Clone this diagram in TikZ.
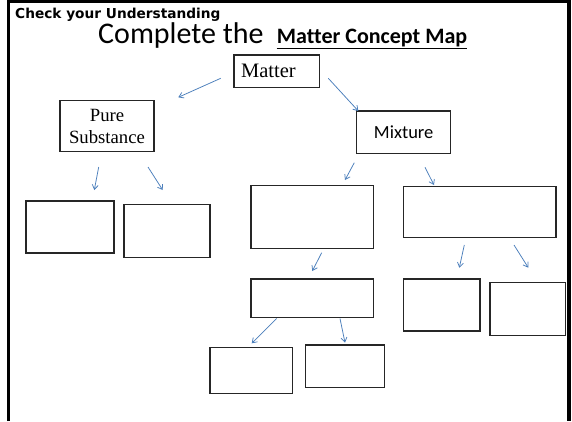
\documentclass[tikz,border=0pt]{standalone}
\usepackage{fontspec}
\setmainfont{Liberation Serif}
\newfontfamily\carlito[Ligatures=NoCommon]{Carlito}
\newfontfamily\dejavu{DejaVu Sans}
\usetikzlibrary{arrows.meta}
\definecolor{arrowblue}{HTML}{4A7EBB}
\tikzset{
  box/.style={draw=black!85, line width=1.3pt, inner sep=0pt, rectangle, fill=white},
  conn/.style={draw=arrowblue, line width=0.75pt, -{Straight Barb[length=4.5pt,width=6pt]}},
  toptext/.style={anchor=base west, inner sep=0pt},
}
\begin{document}
\begin{tikzpicture}[x=1pt,y=-1pt]
\useasboundingbox (0,0) rectangle (572,421);
\fill[white] (0,0) rectangle (572,421);
\draw[line width=3.3pt] (8.3,421) -- (8.3,1.3) -- (569,1.3) -- (569,421);

% titles
\node[toptext, font=\dejavu\bfseries\fontsize{13.7}{16}\selectfont] (check) at (15,18.5) {Check your Understanding};
\node[toptext, font=\carlito\fontsize{30}{36}\selectfont] (compl) at (98,43.3) {Complete the};
\node[toptext, font=\carlito\bfseries\fontsize{22}{26}\selectfont] (mcm) at (276.7,43.3) {Matter Concept Map};
\draw[line width=1.5pt] ([yshift=-5pt]mcm.base west) -- ([yshift=-5pt]mcm.base east);

% boxes
\node[box, minimum width=85.3pt, minimum height=32.3pt, font=\fontsize{20.5}{24}\selectfont] (matter) at (276.7,71.2) {\makebox[85.3pt][l]{\hspace{7pt}\raisebox{-2pt}{Matter}}};
\node[box, minimum width=94pt, minimum height=51pt, align=center, font=\fontsize{18.7}{22.3}\selectfont] (pure) at (107,126.2) {Pure\\Substance};
\node[box, minimum width=94pt, minimum height=42.3pt, font=\carlito\fontsize{18.5}{22}\selectfont] (mixture) at (403.7,132.2) {Mixture};
\node[box, minimum width=88pt, minimum height=52pt] (ba) at (70,227) {};
\node[box, minimum width=86pt, minimum height=53pt] (bb) at (167,231.2) {};
\node[box, minimum width=122.3pt, minimum height=62.6pt] (bc) at (312.2,217) {};
\node[box, minimum width=152.7pt, minimum height=50.6pt] (bd) at (479.7,212) {};
\node[box, minimum width=122.3pt, minimum height=38.7pt] (be) at (312.2,298.3) {};
\node[box, minimum width=76.7pt, minimum height=52pt] (bf) at (441.7,305) {};
\node[box, minimum width=75.7pt, minimum height=53pt] (bg) at (527.8,309.2) {};
\node[box, minimum width=82.3pt, minimum height=45.6pt] (bh) at (251.2,370.5) {};
\node[box, minimum width=78.6pt, minimum height=42.3pt] (bi) at (345,366.2) {};

% connector ends
\coordinate (m1s) at (220.7,78.3);  \coordinate (m1e) at (178.3,97.3);
\coordinate (m2s) at (328.3,78.3);  \coordinate (m2e) at (358.3,111);
\coordinate (p1s) at (98.7,167);    \coordinate (p1e) at (94.3,190);
\coordinate (p2s) at (148,167);     \coordinate (p2e) at (162.7,190);
\coordinate (x1s) at (354.3,162.7); \coordinate (x1e) at (345,180);
\coordinate (x2s) at (425,167.3);   \coordinate (x2e) at (434,185);
\coordinate (c1s) at (321.7,252.7); \coordinate (c1e) at (312.3,271);
\coordinate (d1s) at (464.3,245);   \coordinate (d1e) at (459.3,267.7);
\coordinate (d2s) at (514,245);     \coordinate (d2e) at (528.3,267.7);
\coordinate (e1s) at (276.7,318.5); \coordinate (e1e) at (251.7,343.3);
\coordinate (e2s) at (340,318.5);   \coordinate (e2e) at (345,342.7);

\draw[conn] (m1s) -- (m1e);
\draw[conn] (m2s) -- (m2e);
\draw[conn] (p1s) -- (p1e);
\draw[conn] (p2s) -- (p2e);
\draw[conn] (x1s) -- (x1e);
\draw[conn] (x2s) -- (x2e);
\draw[conn] (c1s) -- (c1e);
\draw[conn] (d1s) -- (d1e);
\draw[conn] (d2s) -- (d2e);
\draw[conn] (e1s) -- (e1e);
\draw[conn] (e2s) -- (e2e);
\end{tikzpicture}
\end{document}
